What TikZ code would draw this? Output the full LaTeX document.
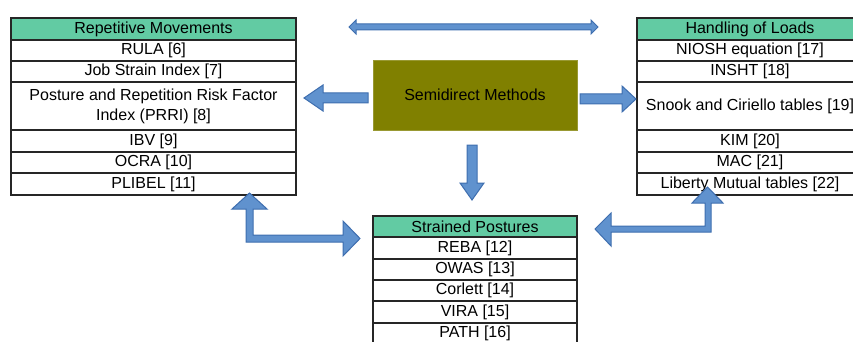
\documentclass[tikz,border=0pt]{standalone}
\usepackage{fontspec}
\setmainfont{Liberation Sans}
\definecolor{hdr}{RGB}{98,203,163}
\definecolor{olivebox}{RGB}{128,128,0}
\definecolor{arrowfill}{RGB}{96,146,206}
\definecolor{arrowline}{RGB}{62,110,175}
\begin{document}
\begin{tikzpicture}[x=1pt,y=-1pt,
  cell/.style={draw=black!85, line width=1.1pt, fill=white, inner sep=0pt, align=center,
    font=\fontsize{16}{20}\selectfont},
  hdrcell/.style={cell, fill=hdr},
  lcol/.style={minimum width=285pt},
  rcol/.style={minimum width=226pt},
  bcol/.style={minimum width=204pt},
  rowh/.style={minimum height=#1},
  blockarrow/.style={fill=arrowfill, draw=arrowline, line width=1pt, line join=miter}]
\useasboundingbox (0,0) rectangle (853,342);
\clip (0,0) rectangle (853,342);

% Left table: Repetitive Movements
\node[hdrcell, lcol, rowh=22pt] (rm)   at (153.5,29)  {Repetitive Movements};
\node[cell, lcol, rowh=21pt]    (rula) at (153.5,50.5) {RULA [6]};
\node[cell, lcol, rowh=21pt]    (jsi)  at (153.5,71.5) {Job Strain Index [7]};
\node[cell, lcol, rowh=48pt]    (prri) at (153.5,106)  {Posture and Repetition Risk Factor\\Index (PRRI) [8]};
\node[cell, lcol, rowh=22pt]    (ibv)  at (153.5,141)  {IBV [9]};
\node[cell, lcol, rowh=21pt]    (ocra) at (153.5,162.5) {OCRA [10]};
\node[cell, lcol, rowh=22pt]    (plib) at (153.5,184)  {PLIBEL [11]};

% Right table: Handling of Loads
\node[hdrcell, rcol, rowh=22pt] (hl)    at (750,29)   {Handling of Loads};
\node[cell, rcol, rowh=21pt]    (niosh) at (750,50.5) {NIOSH equation [17]};
\node[cell, rcol, rowh=21pt]    (insht) at (750,71.5) {INSHT [18]};
\node[cell, rcol, rowh=48pt]    (snook) at (750,106)  {Snook and Ciriello tables [19]};
\node[cell, rcol, rowh=22pt]    (kim)   at (750,141)  {KIM [20]};
\node[cell, rcol, rowh=21pt]    (mac)   at (750,162.5) {MAC [21]};
\node[cell, rcol, rowh=22pt]    (lib)   at (750,184)  {Liberty Mutual tables [22]};

% Bottom table: Strained Postures
\node[hdrcell, bcol, rowh=21pt] (sp)    at (475,226.5) {Strained Postures};
\node[cell, bcol, rowh=22pt]    (reba)  at (475,248)   {REBA [12]};
\node[cell, bcol, rowh=21pt]    (owas)  at (475,269.5) {OWAS [13]};
\node[cell, bcol, rowh=21pt]    (corl)  at (475,290.5) {Corlett [14]};
\node[cell, bcol, rowh=22pt]    (vira)  at (475,312)   {VIRA [15]};
\node[cell, bcol, rowh=21pt]    (path)  at (475,333.5) {PATH [16]};

% Centre box
\node[fill=olivebox, draw=olivebox!80!white, line width=0.6pt, minimum width=204pt, minimum height=70pt,
  font=\fontsize{16}{20}\selectfont] (sm) at (475,95) {Semidirect Methods};

% Block arrows
\draw[blockarrow] (349,27) -- (356,20) -- (356,24) -- (591,24) -- (591,20) -- (598,27)
  -- (591,34) -- (591,30) -- (356,30) -- (356,34) -- cycle;
\draw[blockarrow] (304,98) -- (323,85) -- (323,93) -- (368,93) -- (368,103) -- (323,103) -- (323,111) -- cycle;
\draw[blockarrow] (636,99) -- (622,86) -- (622,94) -- (580,94) -- (580,104) -- (622,104) -- (622,112) -- cycle;
\draw[blockarrow] (472,200) -- (460,183) -- (467,183) -- (467,145) -- (477,145) -- (477,183) -- (484,183) -- cycle;
\draw[blockarrow] (249.5,193) -- (267,209) -- (253,209) -- (253,235) -- (343,235) -- (343,221)
  -- (360,238.5) -- (343,256) -- (343,242) -- (246,242) -- (246,209) -- (232,209) -- cycle;
\draw[blockarrow] (707.5,187) -- (723,203) -- (711,203) -- (711,232) -- (611,232) -- (611,246)
  -- (595,229) -- (611,213) -- (611,226) -- (705,226) -- (705,203) -- (692,203) -- cycle;
\end{tikzpicture}
\end{document}
